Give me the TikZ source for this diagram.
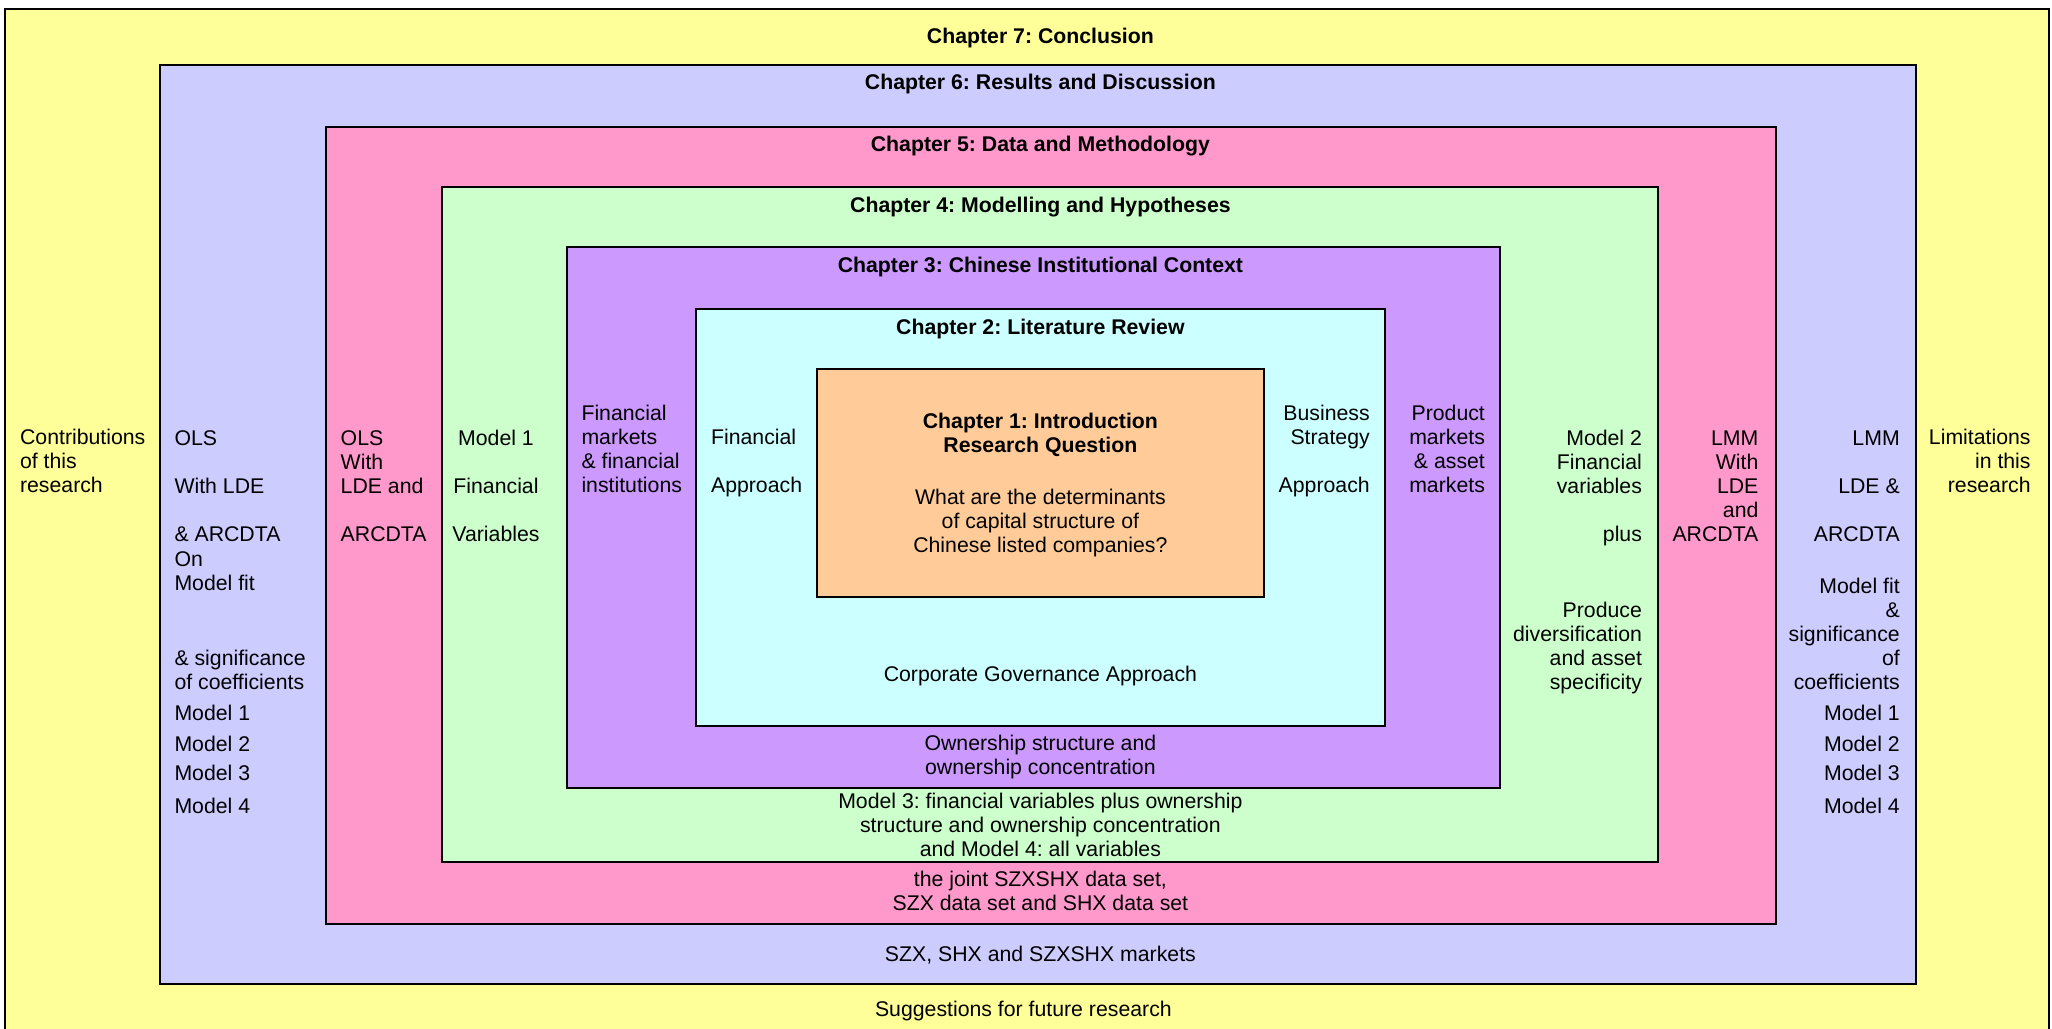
\documentclass[tikz,border=0pt]{standalone}
\usepackage{fontspec}
\setmainfont{Liberation Sans}
\definecolor{ch_seven}{RGB}{255, 255, 153}
\definecolor{ch_six}{RGB}{204, 204, 255}
\definecolor{ch_five}{RGB}{255, 153, 204}
\definecolor{ch_four}{RGB}{204, 255, 204}
\definecolor{ch_three}{RGB}{204, 153, 255}
\definecolor{ch_two}{RGB}{204, 255, 255}
\definecolor{ch_one}{RGB}{255, 204, 153}
\usepackage{tikz}
\usetikzlibrary{positioning}
\frenchspacing
\newcommand{\txtsize}{\fontsize{9.25}{10.5}\selectfont}

\begin{document}
\begin{tikzpicture}[
        x=0.02cm, y=-0.02cm,
        chap/.style={draw=black, line width=0.9pt},
        lbl/.style={inner sep=0pt, font=\txtsize},
        ttl/.style={lbl, anchor=base, font=\txtsize\bfseries},
        lft/.style={lbl, align=left, anchor=base west},
        rgt/.style={lbl, align=right, anchor=base east},
        mid/.style={lbl, align=center, anchor=base},
      ]
        \useasboundingbox (0,0) rectangle (1568,786);

        % nested chapter frames
        \draw[chap, fill=ch_seven] (3.5,7) rectangle (1566,800);
        \draw[chap, fill=ch_six]   (122,50) rectangle (1464,752);
        \draw[chap, fill=ch_five]  (249,97) rectangle (1357,706);
        \draw[chap, fill=ch_four]  (338,143) rectangle (1267,659);
        \draw[chap, fill=ch_three] (433,189) rectangle (1146,602);
        \draw[chap, fill=ch_two]   (532,236) rectangle (1058,555);
        \draw[chap, fill=ch_one]   (624,282) rectangle (966,456);

        % titles (multi-line nodes sit on their last baseline)
        \node[ttl] (t7) at (795,33.5)  {Chapter 7: Conclusion};
        \node[ttl] (t6) at (795,68.5)  {Chapter 6: Results and Discussion};
        \node[ttl] (t5) at (795,115.5) {Chapter 5: Data and Methodology};
        \node[ttl] (t4) at (795,162.5) {Chapter 4: Modelling and Hypotheses};
        \node[ttl] (t3) at (795,208.5) {Chapter 3: Chinese Institutional Context};
        \node[ttl] (t2) at (795,255.5) {Chapter 2: Literature Review};
        \node[ttl, align=center] (t1) at (795,346)
          {Chapter 1: Introduction\\Research Question};
        \node[mid] (rq) at (795,422.5)
          {What are the determinants\\of capital structure of\\Chinese listed companies?};

        % chapter 7
        \node[lft] (contr) at (15,376.5) {Contributions\\of this\\research};
        \node[rgt] (limit) at (1552,376.5) {Limitations\\in this\\research};
        \node[mid] (sugg)  at (782,776.5) {Suggestions for future research};

        % chapter 6
        \node[lft] (olsA) at (133,451)
          {OLS\\[10.5pt]With LDE\\[10.5pt]\& ARCDTA\\On\\Model fit};
        \node[lft] (sigA) at (133,527) {\& significance\\of coefficients};
        \node[lft] (mA1) at (133,550.5) {Model 1};
        \node[lft] (mA2) at (133,574.5) {Model 2};
        \node[lft] (mA3) at (133,596.5) {Model 3};
        \node[lft] (mA4) at (133,621.5) {Model 4};
        \node[rgt] (lmmA) at (1452,414) {LMM\\[10.5pt]LDE \&\\[10.5pt]ARCDTA};
        \node[rgt] (sigB) at (1452,527)
          {Model fit\\\&\\significance\\of\\coefficients};
        \node[rgt] (mB1) at (1452,550.5) {Model 1};
        \node[rgt] (mB2) at (1452,574.5) {Model 2};
        \node[rgt] (mB3) at (1452,596.5) {Model 3};
        \node[rgt] (mB4) at (1452,621.5) {Model 4};
        \node[mid] (mkts) at (795,734.5) {SZX, SHX and SZXSHX markets};

        % chapter 5
        \node[lft] (olsB) at (260,414) {OLS\\With\\LDE and\\[10.5pt]ARCDTA};
        \node[rgt] (lmmB) at (1344,414) {LMM\\With\\LDE\\and\\ARCDTA};
        \node[mid] (data) at (795,696)
          {the joint SZXSHX data set,\\SZX data set and SHX data set};

        % chapter 4
        \node[mid] (mod1) at (379,414) {Model 1\\[10.5pt]Financial\\[10.5pt]Variables};
        \node[rgt] (mod2) at (1255,414) {Model 2\\Financial\\variables\\[10.5pt]plus};
        \node[rgt] (prod) at (1255,527)
          {Produce\\diversification\\and asset\\specificity};
        \node[mid] (mod34) at (795,654.5)
          {Model 3: financial variables plus ownership\\structure and ownership concentration\\and Model 4: all variables};

        % chapter 3
        \node[lft] (finm) at (444,376.5) {Financial\\markets\\\& financial\\institutions};
        \node[rgt] (prdm) at (1135,376.5) {Product\\markets\\\& asset\\markets};
        \node[mid] (own)  at (795,592) {Ownership structure and\\ownership concentration};

        % chapter 2
        \node[lft] (fina) at (543,376.5) {Financial\\[10.5pt]Approach};
        \node[rgt] (busa) at (1047,376.5) {Business\\Strategy\\[10.5pt]Approach};
        \node[mid] (corp) at (795,520.5) {Corporate Governance Approach};
      \end{tikzpicture}
\end{document}
